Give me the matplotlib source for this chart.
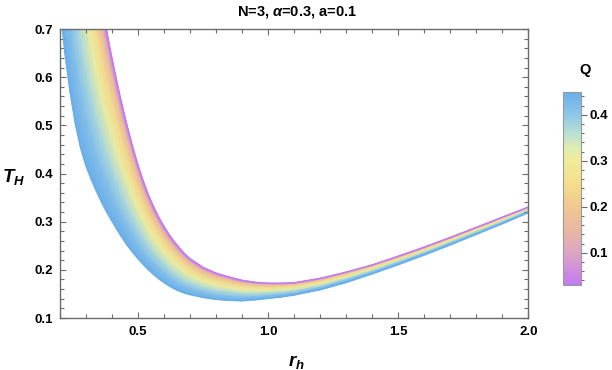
import numpy as np
import matplotlib
matplotlib.use("Agg")
import matplotlib as mpl
import matplotlib.pyplot as plt
from matplotlib.colors import LinearSegmentedColormap, Normalize
from matplotlib.ticker import MultipleLocator

plt.rcParams['font.family'] = ['Liberation Sans', 'DejaVu Sans']
plt.rcParams['mathtext.fontset'] = 'custom'
plt.rcParams['mathtext.it'] = 'Liberation Sans:italic:bold'
plt.rcParams['mathtext.rm'] = 'Liberation Sans:bold'
plt.rcParams['mathtext.bf'] = 'Liberation Sans:bold'

# ---------------- data ----------------
r_h = [0.20, 0.22, 0.24, 0.26, 0.28, 0.30, 0.32, 0.34, 0.36, 0.38, 0.40,
       0.42, 0.44, 0.46, 0.48, 0.50, 0.52, 0.54, 0.56, 0.58, 0.60, 0.62,
       0.64, 0.66, 0.68, 0.70, 0.75, 0.80, 0.85, 0.90, 0.95, 1.00, 1.05,
       1.10, 1.20, 1.30, 1.40, 1.50, 1.60, 1.70, 1.80, 1.90, 2.00]

Q_values = [0.03, 0.15, 0.24, 0.31, 0.37, 0.41, 0.45]

T_Q003 = [1.900, 1.650, 1.440, 1.270, 1.140, 1.020, 0.920, 0.830, 0.754, 0.696, 0.640,
          0.588, 0.540, 0.496, 0.455, 0.418, 0.385, 0.356, 0.331, 0.309, 0.290, 0.273,
          0.258, 0.245, 0.233, 0.223, 0.205, 0.193, 0.185, 0.178, 0.174, 0.172, 0.172,
          0.173, 0.182, 0.195, 0.210, 0.228, 0.247, 0.267, 0.288, 0.309, 0.330]
T_Q015 = [1.774, 1.539, 1.343, 1.185, 1.064, 0.953, 0.861, 0.778, 0.708, 0.654, 0.603,
          0.554, 0.510, 0.469, 0.431, 0.397, 0.366, 0.339, 0.315, 0.295, 0.277, 0.261,
          0.247, 0.235, 0.224, 0.215, 0.198, 0.187, 0.180, 0.173, 0.170, 0.169, 0.169,
          0.170, 0.179, 0.193, 0.208, 0.226, 0.245, 0.265, 0.286, 0.308, 0.329]
T_Q024 = [1.576, 1.367, 1.193, 1.053, 0.946, 0.849, 0.770, 0.698, 0.637, 0.590, 0.544,
          0.502, 0.463, 0.426, 0.393, 0.363, 0.336, 0.312, 0.291, 0.273, 0.257, 0.243,
          0.231, 0.220, 0.210, 0.202, 0.187, 0.178, 0.171, 0.166, 0.164, 0.163, 0.164,
          0.166, 0.175, 0.189, 0.205, 0.223, 0.242, 0.263, 0.284, 0.305, 0.327]
T_Q031 = [1.359, 1.176, 1.027, 0.907, 0.815, 0.734, 0.668, 0.609, 0.558, 0.518, 0.479,
          0.444, 0.410, 0.380, 0.351, 0.326, 0.303, 0.282, 0.265, 0.249, 0.235, 0.223,
          0.212, 0.203, 0.195, 0.188, 0.176, 0.167, 0.162, 0.158, 0.157, 0.157, 0.159,
          0.161, 0.171, 0.185, 0.201, 0.220, 0.239, 0.260, 0.281, 0.303, 0.325]
T_Q037 = [1.129, 0.975, 0.852, 0.753, 0.677, 0.613, 0.562, 0.516, 0.476, 0.443, 0.412,
          0.383, 0.356, 0.330, 0.308, 0.287, 0.268, 0.251, 0.236, 0.223, 0.212, 0.201,
          0.192, 0.185, 0.178, 0.173, 0.163, 0.157, 0.153, 0.150, 0.150, 0.151, 0.153,
          0.156, 0.166, 0.181, 0.198, 0.217, 0.236, 0.257, 0.279, 0.300, 0.323]
T_Q041 = [0.954, 0.822, 0.718, 0.635, 0.571, 0.520, 0.480, 0.444, 0.412, 0.385, 0.360,
          0.336, 0.313, 0.293, 0.274, 0.257, 0.241, 0.227, 0.215, 0.204, 0.194, 0.185,
          0.178, 0.171, 0.166, 0.162, 0.154, 0.148, 0.145, 0.143, 0.144, 0.146, 0.149,
          0.152, 0.163, 0.178, 0.195, 0.214, 0.234, 0.255, 0.276, 0.298, 0.321]
T_Q045 = [0.760, 0.652, 0.570, 0.505, 0.455, 0.418, 0.390, 0.365, 0.342, 0.321, 0.302,
          0.284, 0.267, 0.251, 0.237, 0.224, 0.212, 0.201, 0.191, 0.182, 0.174, 0.167,
          0.161, 0.156, 0.152, 0.149, 0.143, 0.139, 0.137, 0.136, 0.138, 0.141, 0.144,
          0.148, 0.159, 0.174, 0.192, 0.211, 0.231, 0.252, 0.274, 0.296, 0.319]

T_curves = [T_Q003, T_Q015, T_Q024, T_Q031, T_Q037, T_Q041, T_Q045]

# colour legend (pastel gradient), stops given in Q units
Q_range = [0.03, 0.45]
cmap_stop_Q = [0.03, 0.07, 0.10, 0.15, 0.20, 0.25, 0.30, 0.33, 0.36, 0.40, 0.45]
cmap_stop_color = ['#C47AF0', '#D393D8', '#DCA6C2', '#E8B7A2', '#F0C990', '#F4DE8C',
                   '#F0EC9A', '#DDEDB2', '#BBE0D4', '#8FC7E8', '#6AAEEA']

title_text = r'N=3, $\alpha$=0.3, a=0.1'
x_label = r'$r_h$'
y_label = r'$T_H$'
legend_title = 'Q'
cbar_ticks = [0.1, 0.2, 0.3, 0.4]

# ---------------- drawing ----------------
vmin, vmax = Q_range
positions = [(q - vmin) / (vmax - vmin) for q in cmap_stop_Q]
cmap = LinearSegmentedColormap.from_list('pastel', list(zip(positions, cmap_stop_color)))
norm = Normalize(vmin=vmin, vmax=vmax)

frame_col = '#6b6b6b'

fig = plt.figure(figsize=(6.12, 3.70), dpi=100)
ax = fig.add_axes([0.0976, 0.1405, 0.7657, 0.7811])

r = np.array(r_h)
Y = np.array(T_curves)
X = np.tile(r, (len(Q_values), 1))
C = np.tile(np.array(Q_values)[:, None], (1, len(r)))
ax.pcolormesh(X, Y, C, cmap=cmap, norm=norm, shading='gouraud')
for q, T in ((Q_values[0], T_curves[0]), (Q_values[-1], T_curves[-1])):
    ax.plot(r, T, color=cmap(norm(q)), lw=1.2, solid_joinstyle='round')

ax.set_xlim(0.2, 2.0)
ax.set_ylim(0.1, 0.7)
ax.xaxis.set_major_locator(MultipleLocator(0.5))
ax.xaxis.set_minor_locator(MultipleLocator(0.1))
ax.yaxis.set_major_locator(MultipleLocator(0.1))
ax.yaxis.set_minor_locator(MultipleLocator(0.02))
for s in ax.spines.values():
    s.set_color(frame_col)
    s.set_linewidth(1.0)
ax.tick_params(which='both', direction='in', top=True, right=True, color=frame_col,
               width=0.8, labelsize=9.5)
ax.tick_params(which='major', length=4.5)
ax.tick_params(which='minor', length=2.6)
ax.tick_params(axis='x', pad=6)
ax.tick_params(axis='y', pad=4.5)
for lab in ax.get_xticklabels() + ax.get_yticklabels():
    lab.set_fontweight('bold')

fig.text(0.485, 0.968, title_text, ha='center', va='center', fontsize=10.5, fontweight='bold')
fig.text(0.022, 0.522, y_label, ha='center', va='center', fontsize=13.5)
fig.text(0.484, 0.022, x_label, ha='center', va='center', fontsize=13.5)

cax = fig.add_axes([0.9194, 0.2297, 0.0299, 0.5224])
cb = mpl.colorbar.ColorbarBase(cax, cmap=cmap, norm=norm, orientation='vertical')
cb.set_ticks(cbar_ticks)
cb.ax.yaxis.set_minor_locator(MultipleLocator(0.02))
cb.outline.set_edgecolor('#9a9a9a')
cb.outline.set_linewidth(0.8)
cb.ax.tick_params(which='both', direction='out', color=frame_col, width=0.8, labelsize=9.5, pad=2)
cb.ax.tick_params(which='major', length=4)
cb.ax.tick_params(which='minor', length=2.5)
for lab in cb.ax.get_yticklabels():
    lab.set_fontweight('bold')
fig.text(0.956, 0.81, legend_title, ha='center', va='center', fontsize=10.5, fontweight='bold')

fig.savefig('out.png', dpi=100)
